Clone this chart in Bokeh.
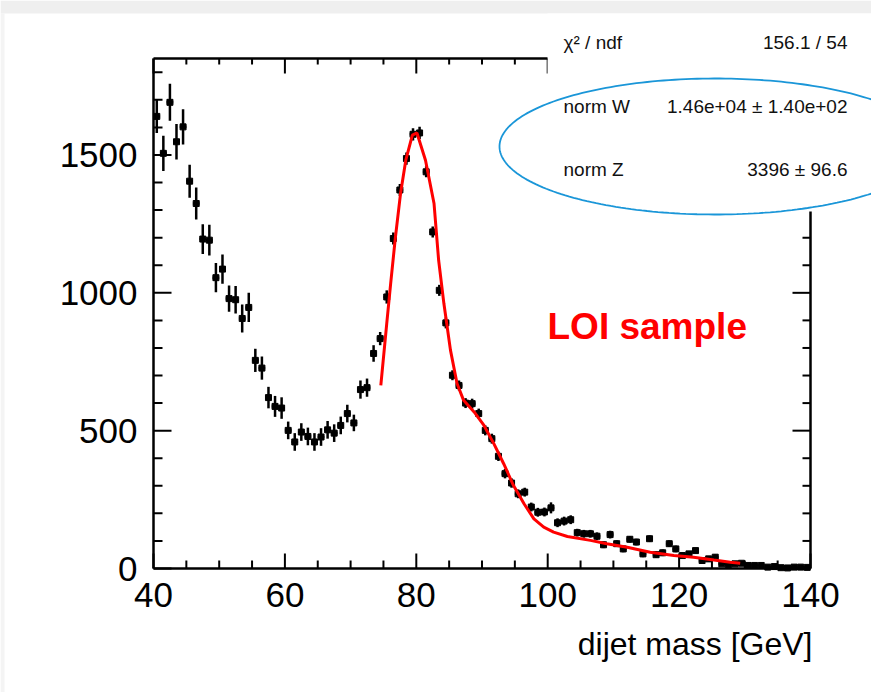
import numpy as np
from bokeh.plotting import figure
from bokeh.models import (Range1d, SingleIntervalTicker, LinearAxis, BoxAnnotation,
                          Label, PolyAnnotation, ColumnDataSource, CustomJSTickFormatter)
from bokeh.embed import file_html
from bokeh.resources import INLINE

# ---------------- data ----------------
bin_low = 40.0
bin_width = 1.0
counts = [1640, 1506, 1691, 1548, 1602, 1405, 1324, 1195, 1191, 1055,
          1086, 979, 975, 907, 947, 755, 727, 620, 588, 582,
          501, 459, 495, 479, 459, 477, 503, 491, 519, 562,
          528, 649, 656, 780, 834, 985, 1197, 1373, 1487, 1575,
          1580, 1439, 1221, 1009, 891, 701, 664, 600, 598, 562,
          501, 471, 407, 344, 310, 271, 277, 223, 204, 205,
          220, 166, 172, 177, 130, 126, 126, 117, 86, 123,
          90, 71, 106, 96, 53, 108, 50, 57, 90, 71,
          47, 53, 65, 29, 35, 41, 17, 14, 17, 19,
          11, 11, 11, 5, 7, 3, 2, 5, 5, 4]
errors = [60, 64, 67, 64, 64, 60, 58, 54, 56, 53,
          53, 48, 50, 51, 53, 42, 42, 39, 38, 39,
          32, 32, 32, 32, 32, 32, 32, 32, 32, 32,
          30, 33, 33, 30, 24, 24, 22, 22, 22, 22,
          22, 20, 20, 20, 20, 18, 18, 18, 18, 18,
          18, 18, 17, 17, 17, 16, 16, 16, 16, 16,
          20, 16, 16, 16, 14, 14, 14, 14, 12, 14,
          12, 12, 12, 12, 12, 12, 12, 12, 12, 12,
          10, 10, 10, 10, 10, 10, 8, 8, 8, 8,
          7, 7, 7, 6, 6, 5, 5, 6, 6, 6]

fit_x = [74.6, 75.5, 76.1, 76.8, 77.6, 78.4, 79.4, 80.1, 81.4, 82.7,
         83.4, 84.2, 85.2, 86.2, 87.2, 88.8, 90.3, 91.8, 93.3, 94.8,
         96.4, 97.9, 99.4, 100.9, 103.0, 106.5, 109.0, 112.1, 115.6, 119.2,
         122.2, 125.3, 127.8, 129.3]
fit_y = [664, 888, 1034, 1197, 1360, 1481, 1572, 1580, 1481, 1324,
         1118, 961, 792, 671, 610, 568, 519, 453, 380, 301,
         235, 180, 150, 132, 116, 102, 90, 77, 59, 47,
         41, 31, 23, 19]

x_min, x_max = 40, 140
y_min, y_max = 0, 1850
x_ticks_interval = 20
x_minor_interval = 5
y_ticks_interval = 500
y_minor_interval = 100
top_axis_end = 100      # the stats box hides the box frame beyond this x
right_axis_end = 1295   # ... and above this y

stat_names = ["\u03c7\u00b2 / ndf", "norm W", "norm Z"]
stat_values = ["156.1 / 54", "1.46e+04 \u00b1 1.40e+02", "3396 \u00b1 96.6"]

x_title = "dijet mass [GeV]"
note_text = "LOI sample"

# ---------------- layout ----------------
W, H = 871, 692
FL, FR, FT, FB = 153, 810, 58, 568      # where the drawn axes box sits on the page
FONT = "Liberation Sans"

sx = (FR - FL) / (x_max - x_min)
sy = (FB - FT) / (y_max - y_min)
xr = Range1d(x_min - FL / sx, x_min + (W - FL) / sx)
yr = Range1d(y_min - (H - FB) / sy, y_min + FB / sy)

counts_a = np.array(counts, dtype=float)
err_a = np.array(errors, dtype=float)
centers = bin_low + bin_width * (np.arange(len(counts)) + 0.5)

src = ColumnDataSource(dict(
    x=centers, y=counts_a,
    x0=centers - bin_width / 2, x1=centers + bin_width / 2,
    ylo=counts_a - err_a, yhi=counts_a + err_a))

p = figure(width=W, height=H, output_backend="svg", toolbar_location=None,
           x_range=xr, y_range=yr,
           min_border=0, min_border_left=0, min_border_right=0,
           min_border_top=0, min_border_bottom=0,
           x_axis_location=None, y_axis_location=None)
p.outline_line_color = None
p.background_fill_color = None
p.border_fill_color = "white"
for g in p.grid:
    g.visible = False

xt = lambda: SingleIntervalTicker(interval=x_ticks_interval, num_minor_ticks=4)
yt = lambda: SingleIntervalTicker(interval=y_ticks_interval, num_minor_ticks=5)

def box_axis(ticker, fixed, bounds, labels, standoff=12):
    ax = LinearAxis(ticker=ticker, fixed_location=fixed, bounds=bounds, level="overlay")
    ax.axis_line_width = 2.5
    ax.axis_line_color = "black"
    ax.major_tick_in = 0
    ax.major_tick_out = 0
    ax.minor_tick_in = 0
    ax.minor_tick_out = 0
    ax.major_tick_line_color = None
    ax.minor_tick_line_color = None
    if labels:
        ax.major_label_text_font = FONT
        ax.major_label_text_font_size = "35px"
        ax.major_label_text_color = "black"
        ax.major_label_standoff = standoff
    else:
        ax.formatter = CustomJSTickFormatter(code="return ''")
        ax.major_label_text_font_size = "1px"
        ax.major_label_standoff = 0
    return ax

p.add_layout(box_axis(xt(), y_min, (x_min, x_max), True, 14), "below")
p.add_layout(box_axis(yt(), x_min, (y_min, y_max), True, 16), "left")
p.add_layout(box_axis(xt(), y_max, (x_min, top_axis_end), False), "above")
p.add_layout(box_axis(yt(), x_max, (y_min, right_axis_end), False), "right")

# ROOT-style inner tick marks on all four edges (positions from the tick intervals)
x_major = np.arange(x_min, x_max + 0.01, x_ticks_interval)
x_minor = np.array([v for v in np.arange(x_min, x_max + 0.01, x_minor_interval)
                    if v % x_ticks_interval != 0])
y_major = np.arange(y_min, y_max + 0.01, y_ticks_interval)
y_minor = np.array([v for v in np.arange(y_min, y_max + 0.01, y_minor_interval)
                    if v % y_ticks_interval != 0])

def vticks(xs, y0, length_px, direction):
    d = direction * length_px / sy
    p.segment(x0=xs, y0=[y0] * len(xs), x1=xs, y1=[y0 + d] * len(xs),
              line_color="black", line_width=2)

def hticks(ys, x0, length_px, direction):
    d = direction * length_px / sx
    p.segment(x0=[x0] * len(ys), y0=ys, x1=[x0 + d] * len(ys), y1=ys,
              line_color="black", line_width=2)

vticks(x_major, y_min, 15, +1)
vticks(x_minor, y_min, 8, +1)
vticks(x_major, y_max, 15, -1)
vticks(x_minor, y_max, 6, -1)
hticks(y_major, x_min, 18, +1)
hticks(y_minor, x_min, 9, +1)
hticks(y_major, x_max, 18, -1)
hticks(y_minor, x_max, 8, -1)

# data points with error bars
p.segment(x0="x0", y0="y", x1="x1", y1="y", source=src, line_color="black", line_width=2.5)
p.segment(x0="x", y0="ylo", x1="x", y1="yhi", source=src, line_color="black", line_width=2.5)
p.scatter(x="x", y="y", source=src, marker="square", size=6, color="black")

# fit curve
p.line(fit_x, fit_y, line_color="red", line_width=3)

def cbox(l, r, t, b, color):
    return BoxAnnotation(left=l, right=r, top=t, bottom=b,
                         left_units="canvas", right_units="canvas",
                         top_units="canvas", bottom_units="canvas",
                         fill_color=color, fill_alpha=1, line_color=None, level="annotation")

# slide border strips
p.add_layout(cbox(0, W, 0, 13, "#efefef"))
p.add_layout(cbox(0, 4, 13, H, "#f4f4f4"))

# stats box (white, hides the top-right corner of the box)
p.add_layout(cbox(547, W, 13, 211, "white"))
stat_rows = [42, 106, 169]
for name, val, yy in zip(stat_names, stat_values, stat_rows):
    p.add_layout(Label(x=563, y=yy, x_units="canvas", y_units="canvas", text=name,
                       text_font=FONT, text_font_size="19px", text_color="#111111",
                       text_align="left", text_baseline="middle", level="overlay"))
    p.add_layout(Label(x=847, y=yy, x_units="canvas", y_units="canvas", text=val,
                       text_font=FONT, text_font_size="19px", text_color="#111111",
                       text_align="right", text_baseline="middle", level="overlay"))

# blue ellipse annotation
t = np.linspace(0, 2 * np.pi, 240)
ex = 715 + 216 * np.cos(t)
ey = 146 + 68 * np.sin(t)
p.add_layout(PolyAnnotation(xs=list(ex), ys=list(ey), xs_units="canvas", ys_units="canvas",
                            fill_alpha=0, line_color="#1a96d8", line_alpha=1, line_width=1.8,
                            level="overlay"))

# axis title and note
p.add_layout(Label(x=812, y=643, x_units="canvas", y_units="canvas", text=x_title,
                   text_font=FONT, text_font_size="32px", text_color="black",
                   text_align="right", text_baseline="middle"))
p.add_layout(Label(x=547, y=326, x_units="canvas", y_units="canvas", text=note_text,
                   text_font=FONT, text_font_size="37px", text_font_style="bold",
                   text_color="#ff0000", text_align="left", text_baseline="middle"))

open("out.html", "w").write(file_html(p, INLINE))
